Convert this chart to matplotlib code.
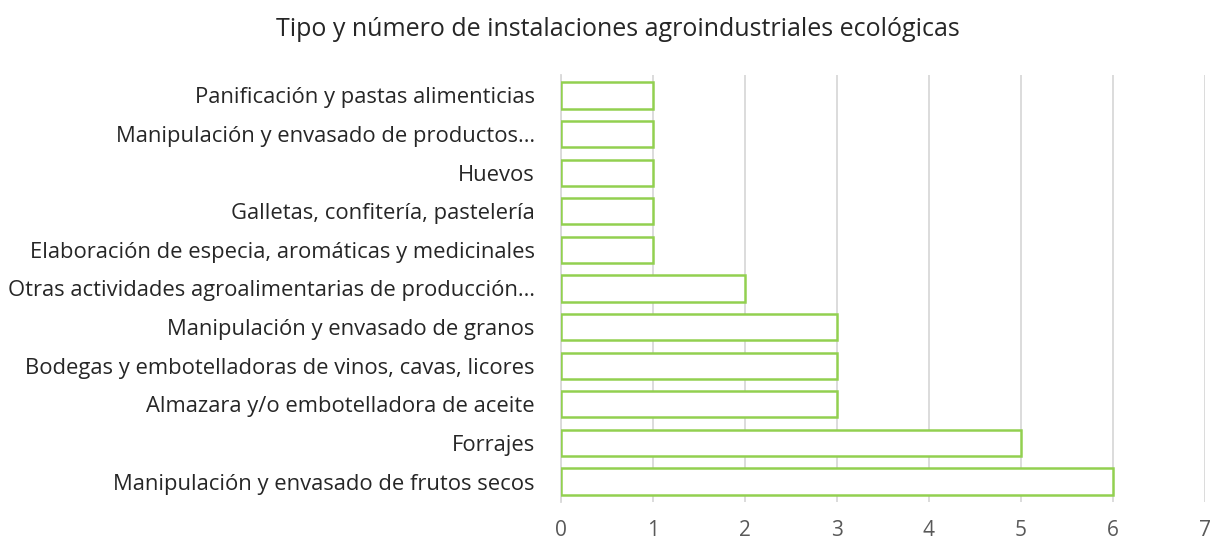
import matplotlib.pyplot as plt

plt.rcParams['font.family'] = ['Open Sans', 'DejaVu Sans']

categories = [
    'Manipulación y envasado de frutos secos',
    'Forrajes',
    'Almazara y/o embotelladora de aceite',
    'Bodegas y embotelladoras de vinos, cavas, licores',
    'Manipulación y envasado de granos',
    'Otras actividades agroalimentarias de producción…',
    'Elaboración de especia, aromáticas y medicinales',
    'Galletas, confitería, pastelería',
    'Huevos',
    'Manipulación y envasado de productos…',
    'Panificación y pastas alimenticias',
]
values = [6, 5, 3, 3, 3, 2, 1, 1, 1, 1, 1]
xticks = [0, 1, 2, 3, 4, 5, 6, 7]

fig = plt.figure(figsize=(12.11, 5.4), dpi=100)
ax = fig.add_axes([0.4633, 0.0704, 0.5317, 0.7907])

y = list(range(len(categories)))
ax.barh(y, values, height=0.68, color='white', edgecolor='#92D050', linewidth=1.8, zorder=3)

ax.set_xlim(0, 7)
ax.set_ylim(-0.53, len(categories) - 0.47)
ax.set_xticks(xticks)
ax.set_yticks(y)
ax.set_yticklabels(categories, fontsize=15.8, color='#262626')
ax.tick_params(axis='x', labelsize=15, labelcolor='#595959', length=0, pad=13)
ax.tick_params(axis='y', length=0, pad=19)
ax.grid(axis='x', color='#D9D9D9', linewidth=1.3, zorder=0)
for s in ['top', 'right', 'bottom']:
    ax.spines[s].set_visible(False)
ax.spines['left'].set_color('#D9D9D9')
ax.spines['left'].set_linewidth(1.3)

fig.text(0.51, 0.945, 'Tipo y número de instalaciones agroindustriales ecológicas',
         ha='center', va='center', fontsize=18, color='#262626')

fig.savefig('out.png', dpi=100)
